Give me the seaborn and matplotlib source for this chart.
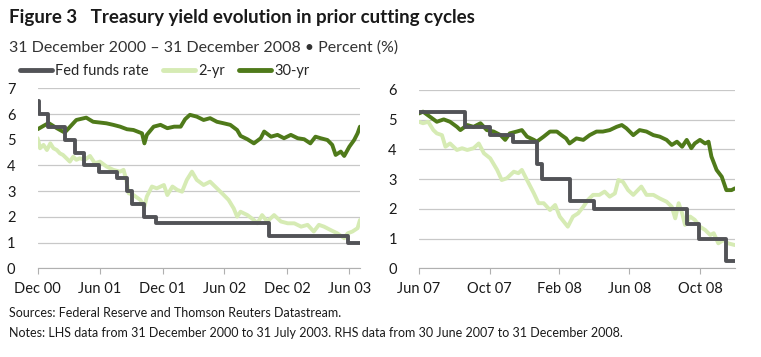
import pandas as pd
import seaborn as sns
import matplotlib.pyplot as plt
from matplotlib.lines import Line2D

# Fed funds target rate, step changes (LHS cycle)
ff_lhs_dates = ['2000-12-31', '2001-01-03', '2001-01-31', '2001-03-20', '2001-04-18',
                '2001-05-15', '2001-06-27', '2001-08-21', '2001-09-17', '2001-10-02',
                '2001-11-06', '2001-12-11', '2002-11-06', '2003-06-25', '2003-07-31']
ff_lhs = [6.5, 6.0, 5.5, 5.0, 4.5, 4.0, 3.75, 3.5, 3.0, 2.5, 2.0, 1.75, 1.25, 1.0, 1.0]

# 2-yr yield (LHS)
y2_lhs_dates = ['2000-12-31', '2001-01-07', '2001-01-17', '2001-01-27', '2001-02-06', '2001-02-15',
                '2001-02-25', '2001-03-06', '2001-03-15', '2001-03-25', '2001-04-04', '2001-04-14',
                '2001-04-23', '2001-05-03', '2001-05-18', '2001-06-02', '2001-06-16', '2001-07-01',
                '2001-07-20', '2001-08-09', '2001-08-29', '2001-09-08', '2001-09-16', '2001-09-23',
                '2001-10-07', '2001-10-27', '2001-11-08', '2001-11-15', '2001-11-30', '2001-12-14',
                '2002-01-04', '2002-01-14', '2002-01-29', '2002-02-12', '2002-02-26', '2002-03-12',
                '2002-03-27', '2002-04-10', '2002-04-30', '2002-05-19', '2002-06-08', '2002-06-28',
                '2002-07-12', '2002-07-27', '2002-08-06', '2002-08-16', '2002-09-05', '2002-09-24',
                '2002-10-04', '2002-10-18', '2002-11-02', '2002-11-22', '2002-12-12', '2003-01-01',
                '2003-01-20', '2003-02-09', '2003-02-28', '2003-03-18', '2003-04-02', '2003-04-17',
                '2003-05-06', '2003-05-26', '2003-06-15', '2003-06-25', '2003-07-09', '2003-07-24',
                '2003-07-31']
y2_lhs = [5.06, 4.67, 4.80, 4.60, 4.86, 4.67, 4.60, 4.47, 4.41, 4.28, 4.15, 4.34,
          4.22, 4.28, 4.22, 4.37, 4.09, 4.15, 3.96, 3.83, 3.76, 3.83, 3.44, 2.92,
          2.85, 2.66, 2.40, 2.79, 3.18, 3.11, 3.24, 2.85, 3.18, 3.05, 2.98, 3.44,
          3.76, 3.44, 3.24, 3.37, 3.11, 2.85, 2.66, 2.33, 2.01, 2.20, 2.07, 1.88,
          1.75, 2.07, 1.82, 2.07, 1.82, 1.75, 1.75, 1.62, 1.69, 1.43, 1.69, 1.62,
          1.49, 1.36, 1.17, 1.36, 1.43, 1.56, 1.88]

# 30-yr yield (LHS)
y30_lhs_dates = ['2000-12-31', '2001-01-17', '2001-02-01', '2001-02-25', '2001-03-20', '2001-04-23',
                 '2001-05-22', '2001-06-11', '2001-07-01', '2001-07-20', '2001-08-09', '2001-08-29',
                 '2001-09-18', '2001-10-07', '2001-11-01', '2001-11-08', '2001-11-15', '2001-12-05',
                 '2001-12-25', '2002-01-14', '2002-02-03', '2002-02-22', '2002-03-07', '2002-03-21',
                 '2002-04-10', '2002-04-30', '2002-05-19', '2002-06-08', '2002-06-28', '2002-07-17',
                 '2002-08-06', '2002-08-16', '2002-09-05', '2002-09-24', '2002-10-14', '2002-10-24',
                 '2002-11-13', '2002-12-02', '2002-12-21', '2003-01-10', '2003-01-30', '2003-02-18',
                 '2003-03-08', '2003-03-23', '2003-04-07', '2003-04-27', '2003-05-11', '2003-05-21',
                 '2003-06-05', '2003-06-15', '2003-06-30', '2003-07-14', '2003-07-24', '2003-07-31']
y30_lhs = [5.41, 5.54, 5.65, 5.45, 5.28, 5.77, 5.86, 5.70, 5.67, 5.64, 5.58, 5.51,
           5.41, 5.38, 5.25, 4.86, 5.19, 5.51, 5.58, 5.45, 5.51, 5.51, 5.80, 5.97,
           5.90, 5.77, 5.84, 5.70, 5.64, 5.58, 5.38, 5.15, 5.02, 4.86, 5.06, 5.32,
           5.12, 5.19, 5.06, 5.19, 5.06, 5.02, 4.86, 5.12, 5.06, 4.99, 4.80, 4.41,
           4.54, 4.37, 4.73, 4.99, 5.25, 5.51]

# Fed funds target rate (RHS cycle)
ff_rhs_dates = ['2007-06-30', '2007-09-18', '2007-10-31', '2007-12-11', '2008-01-22',
                '2008-01-30', '2008-03-18', '2008-04-30', '2008-10-08', '2008-10-29',
                '2008-12-16', '2008-12-31']
ff_rhs = [5.25, 4.75, 4.5, 4.25, 3.5, 3.0, 2.25, 2.0, 1.5, 1.0, 0.25, 0.25]

# 2-yr yield (RHS)
y2_rhs_dates = ['2007-06-30', '2007-07-07', '2007-07-16', '2007-07-25', '2007-07-31', '2007-08-09',
                '2007-08-15', '2007-08-23', '2007-09-04', '2007-09-13', '2007-09-22', '2007-10-03',
                '2007-10-12', '2007-10-21', '2007-11-01', '2007-11-13', '2007-11-21', '2007-11-30',
                '2007-12-12', '2007-12-20', '2007-12-26', '2008-01-04', '2008-01-16', '2008-01-24',
                '2008-02-02', '2008-02-13', '2008-02-22', '2008-03-01', '2008-03-15', '2008-03-24',
                '2008-04-02', '2008-04-11', '2008-04-19', '2008-04-28', '2008-05-09', '2008-05-18',
                '2008-05-27', '2008-06-05', '2008-06-11', '2008-06-19', '2008-06-28', '2008-07-07',
                '2008-07-15', '2008-07-21', '2008-07-30', '2008-08-11', '2008-08-22', '2008-09-03',
                '2008-09-12', '2008-09-18', '2008-09-24', '2008-09-30', '2008-10-05', '2008-10-14',
                '2008-10-22', '2008-10-31', '2008-11-09', '2008-11-18', '2008-11-24', '2008-12-02',
                '2008-12-11', '2008-12-19', '2008-12-31']
y2_rhs = [4.93, 4.88, 4.93, 4.65, 4.54, 4.48, 4.09, 4.20, 3.98, 4.04, 3.98, 4.04,
          4.20, 3.87, 3.70, 3.31, 2.97, 3.03, 3.25, 3.20, 3.31, 2.97, 2.52, 2.19,
          2.19, 1.96, 2.13, 1.74, 1.40, 1.74, 1.85, 2.07, 2.30, 2.47, 2.47, 2.58,
          2.41, 2.52, 2.97, 2.91, 2.63, 2.47, 2.63, 2.75, 2.47, 2.47, 2.35, 2.24,
          2.07, 1.68, 2.19, 1.85, 1.46, 1.74, 1.63, 1.40, 1.29, 1.12, 1.18, 0.84,
          0.95, 0.84, 0.78]

# 30-yr yield (RHS)
y30_rhs_dates = ['2007-06-30', '2007-07-07', '2007-07-19', '2007-07-31', '2007-08-12', '2007-08-23',
                 '2007-09-04', '2007-09-10', '2007-09-22', '2007-10-03', '2007-10-15', '2007-10-26',
                 '2007-11-07', '2007-11-19', '2007-11-27', '2007-12-05', '2007-12-17', '2007-12-26',
                 '2008-01-04', '2008-01-16', '2008-01-21', '2008-02-02', '2008-02-13', '2008-02-25',
                 '2008-03-04', '2008-03-12', '2008-03-18', '2008-03-30', '2008-04-11', '2008-04-22',
                 '2008-05-04', '2008-05-15', '2008-05-27', '2008-06-08', '2008-06-17', '2008-06-25',
                 '2008-07-07', '2008-07-18', '2008-07-30', '2008-08-11', '2008-08-22', '2008-09-03',
                 '2008-09-12', '2008-09-21', '2008-09-30', '2008-10-08', '2008-10-16', '2008-10-22',
                 '2008-10-31', '2008-11-09', '2008-11-15', '2008-11-20', '2008-11-29', '2008-12-08',
                 '2008-12-16', '2008-12-25', '2008-12-31']
y30_rhs = [5.21, 5.27, 5.10, 4.93, 5.01, 4.93, 4.76, 4.65, 4.82, 4.76, 4.88, 4.65,
           4.60, 4.48, 4.32, 4.54, 4.60, 4.65, 4.43, 4.32, 4.26, 4.43, 4.60, 4.60,
           4.48, 4.37, 4.20, 4.37, 4.32, 4.48, 4.60, 4.60, 4.65, 4.76, 4.82, 4.71,
           4.48, 4.65, 4.60, 4.48, 4.43, 4.32, 4.15, 4.26, 4.09, 4.32, 4.04, 4.20,
           4.32, 4.20, 4.26, 3.76, 3.31, 3.08, 2.63, 2.63, 2.69]

lhs_ticks = ['2000-12-31', '2001-06-30', '2001-12-31', '2002-06-30', '2002-12-31', '2003-06-30']
lhs_labels = ['Dec 00', 'Jun 01', 'Dec 01', 'Jun 02', 'Dec 02', 'Jun 03']
rhs_ticks = ['2007-06-30', '2007-10-31', '2008-02-29', '2008-06-30', '2008-10-31']
rhs_labels = ['Jun 07', 'Oct 07', 'Feb 08', 'Jun 08', 'Oct 08']

c_ff = '#525357'
c_2y = '#d6ebb4'
c_30y = '#4f7a1a'

sns.set_style('white')
plt.rcParams['font.family'] = ['Lato', 'DejaVu Sans']

fig = plt.figure(figsize=(7.61, 3.57), dpi=100)
ax1 = fig.add_axes([0.0495, 0.2485, 0.4235, 0.504])
ax2 = fig.add_axes([0.5506, 0.2485, 0.4152, 0.4995])


def draw_panel(ax, ff_d, ff_v, y2_d, y2_v, y30_d, y30_v, ymax, ticks, labels, xlim):
    sns.lineplot(x=pd.to_datetime(y2_d), y=y2_v, ax=ax, color=c_2y, lw=2.8)
    sns.lineplot(x=pd.to_datetime(y30_d), y=y30_v, ax=ax, color=c_30y, lw=2.8)
    sns.lineplot(x=pd.to_datetime(ff_d), y=ff_v, ax=ax, color=c_ff, lw=2.8,
                 drawstyle='steps-post')
    ax.set_xlim(pd.to_datetime(xlim[0]), pd.to_datetime(xlim[1]))
    ax.set_ylim(0, ymax)
    ax.set_yticks(range(0, ymax + 1))
    ax.yaxis.grid(True, color='#c8c8c8', lw=0.9)
    ax.set_axisbelow(True)
    ax.set_xticks(pd.to_datetime(ticks))
    ax.set_xticklabels(labels)
    for s in ['top', 'right', 'left']:
        ax.spines[s].set_visible(False)
    ax.spines['bottom'].set_color('#b0b0b0')
    ax.tick_params(axis='x', direction='out', length=4, color='#b0b0b0',
                   labelsize=10.5, pad=6, labelcolor='#1a1a1a', bottom=True)
    ax.tick_params(axis='y', length=0, labelsize=10.5, pad=16, labelcolor='#1a1a1a')
    ax.set_xlabel('')
    ax.set_ylabel('')


draw_panel(ax1, ff_lhs_dates, ff_lhs, y2_lhs_dates, y2_lhs, y30_lhs_dates, y30_lhs, 7,
           lhs_ticks, lhs_labels, ('2000-12-31', '2003-07-31'))
draw_panel(ax2, ff_rhs_dates, ff_rhs, y2_rhs_dates, y2_rhs, y30_rhs_dates, y30_rhs, 6,
           rhs_ticks, rhs_labels, ('2007-06-30', '2008-12-31'))

fig.text(0.012, 0.952, 'Figure 3   Treasury yield evolution in prior cutting cycles',
         fontsize=13.5, fontweight='bold', color='#1a1a1a', va='center')
fig.text(0.012, 0.868, '31 December 2000 \u2013 31 December 2008 \u2022 Percent (%)',
         fontsize=11.5, color='#333333', va='center')

handles = [Line2D([], [], color=c_ff, lw=3.5), Line2D([], [], color=c_2y, lw=3.5),
           Line2D([], [], color=c_30y, lw=3.5)]
fig.legend(handles, ['Fed funds rate', '2-yr', '30-yr'], loc='center left',
           bbox_to_anchor=(0.026, 0.801), ncol=3, frameon=False, fontsize=10.5,
           handlelength=2.2, handletextpad=0.2, columnspacing=1.0, borderaxespad=0,
           borderpad=0)

fig.text(0.012, 0.123, 'Sources: Federal Reserve and Thomson Reuters Datastream.',
         fontsize=9, color='#1a1a1a', va='center')
fig.text(0.012, 0.066, 'Notes: LHS data from 31 December 2000 to 31 July 2003. '
         'RHS data from 30 June 2007 to 31 December 2008.',
         fontsize=9, color='#1a1a1a', va='center')

fig.savefig('out.png', dpi=100)
